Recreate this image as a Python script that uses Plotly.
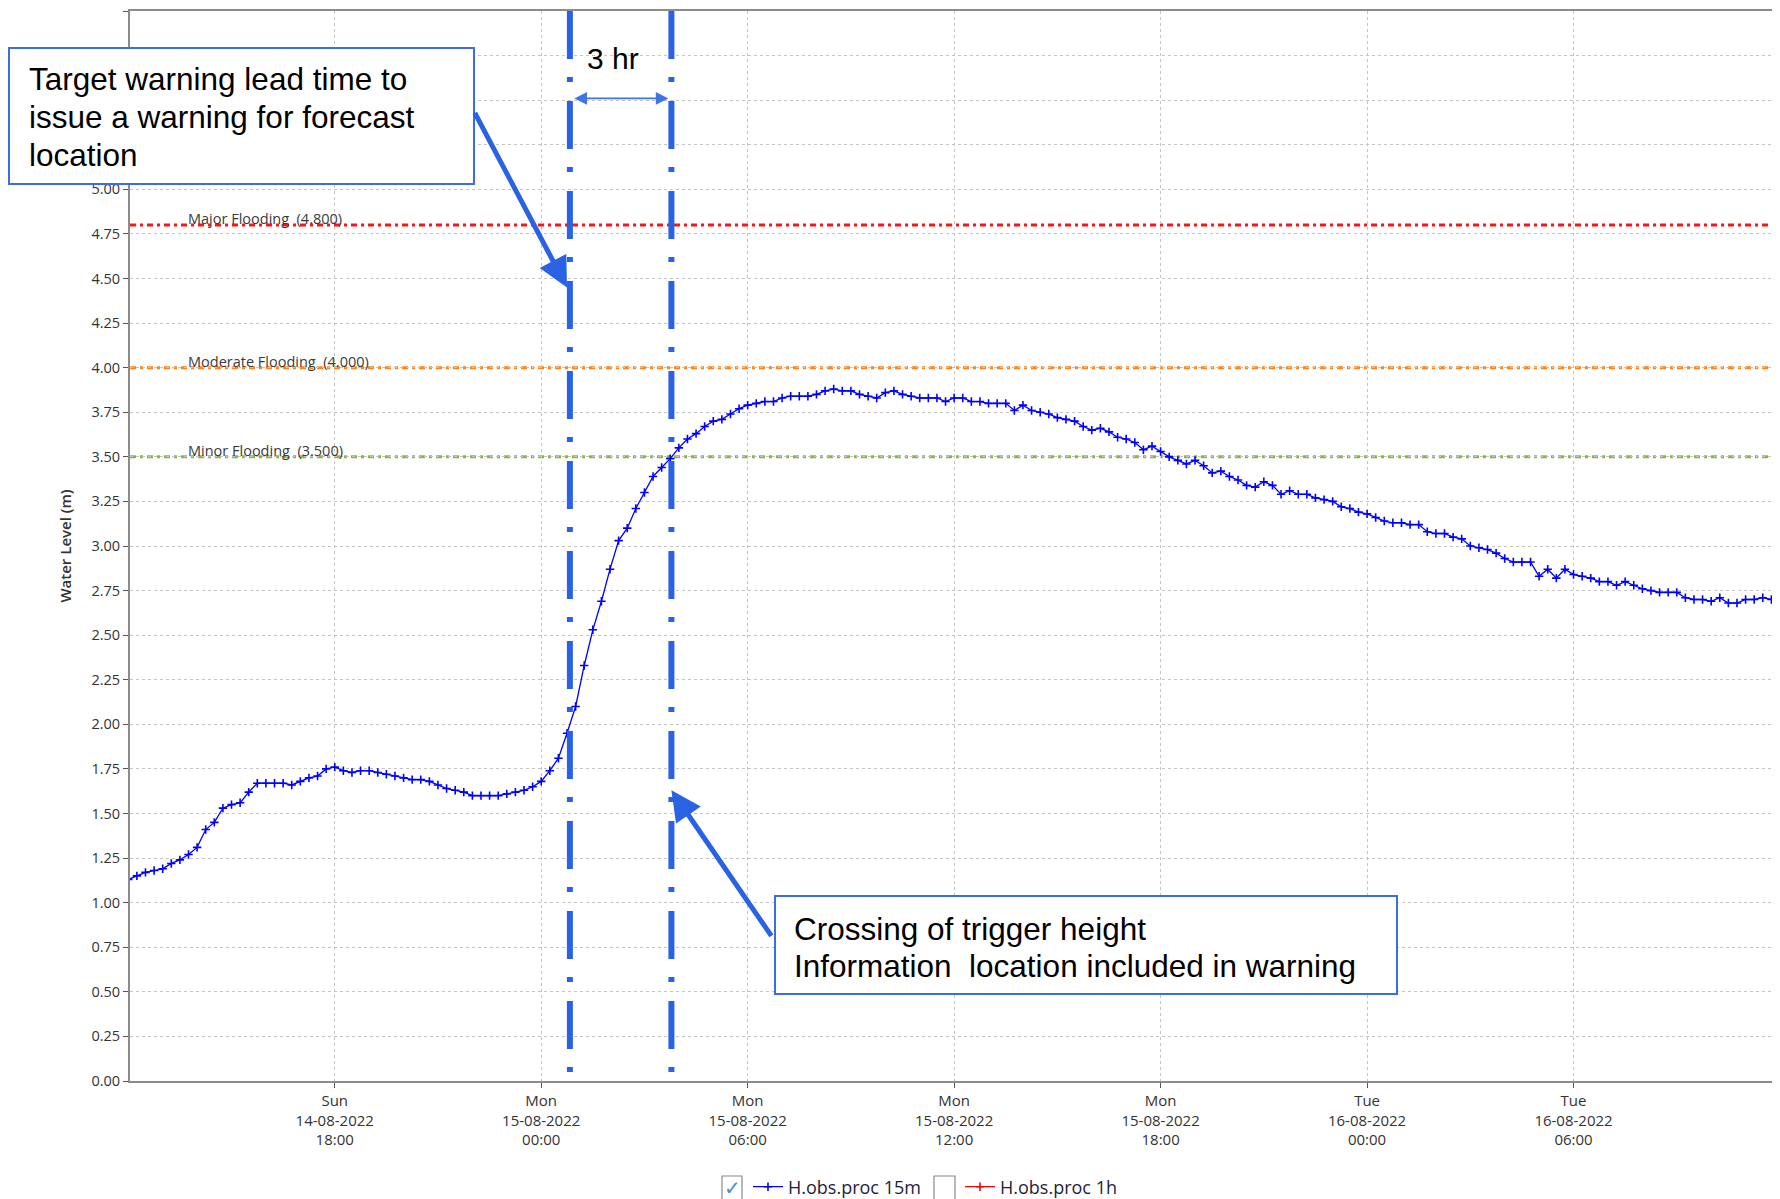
import pandas as pd
import plotly.graph_objects as go

# ---------------- data ----------------
series_start = "2022-08-14 12:00"
series_step = "15min"
# H.obs.proc 15m water level (m), one value per 15 minutes
level_sun = [
    1.13, 1.15, 1.17, 1.18,  # 12h
    1.19, 1.22, 1.24, 1.27,  # 13h
    1.31, 1.41, 1.45, 1.53,  # 14h
    1.55, 1.56, 1.62, 1.67,  # 15h
    1.67, 1.67, 1.67, 1.66,  # 16h
    1.68, 1.70, 1.71, 1.75,  # 17h
    1.76, 1.74, 1.73, 1.74,  # 18h
    1.74, 1.73, 1.72, 1.71,  # 19h
    1.70, 1.69, 1.69, 1.68,  # 20h
    1.66, 1.64, 1.63, 1.62,  # 21h
    1.60, 1.60, 1.60, 1.60,  # 22h
    1.61, 1.62, 1.63, 1.65,  # 23h
]
level_mon = [
    1.68, 1.74, 1.81, 1.95,  # 00h
    2.10, 2.33, 2.53, 2.69,  # 01h
    2.87, 3.03, 3.10, 3.21,  # 02h
    3.30, 3.39, 3.44, 3.49,  # 03h
    3.55, 3.60, 3.63, 3.67,  # 04h
    3.70, 3.71, 3.74, 3.77,  # 05h
    3.79, 3.80, 3.81, 3.81,  # 06h
    3.83, 3.84, 3.84, 3.84,  # 07h
    3.85, 3.87, 3.88, 3.87,  # 08h
    3.87, 3.85, 3.84, 3.83,  # 09h
    3.86, 3.87, 3.85, 3.84,  # 10h
    3.83, 3.83, 3.83, 3.81,  # 11h
    3.83, 3.83, 3.81, 3.81,  # 12h
    3.80, 3.80, 3.80, 3.76,  # 13h
    3.79, 3.76, 3.75, 3.74,  # 14h
    3.72, 3.71, 3.70, 3.67,  # 15h
    3.65, 3.66, 3.64, 3.61,  # 16h
    3.60, 3.58, 3.54, 3.56,  # 17h
    3.53, 3.50, 3.48, 3.46,  # 18h
    3.48, 3.45, 3.41, 3.42,  # 19h
    3.39, 3.37, 3.34, 3.33,  # 20h
    3.36, 3.34, 3.29, 3.31,  # 21h
    3.29, 3.29, 3.27, 3.26,  # 22h
    3.25, 3.22, 3.21, 3.19,  # 23h
]
level_tue = [
    3.18, 3.16, 3.14, 3.13,  # 00h
    3.13, 3.12, 3.12, 3.08,  # 01h
    3.07, 3.07, 3.05, 3.04,  # 02h
    3.00, 2.99, 2.98, 2.96,  # 03h
    2.93, 2.91, 2.91, 2.91,  # 04h
    2.83, 2.87, 2.82, 2.87,  # 05h
    2.84, 2.83, 2.82, 2.80,  # 06h
    2.80, 2.78, 2.80, 2.78,  # 07h
    2.76, 2.75, 2.74, 2.74,  # 08h
    2.74, 2.71, 2.70, 2.70,  # 09h
    2.69, 2.71, 2.68, 2.68,  # 10h
    2.70, 2.70, 2.71, 2.70,  # 11h
    2.70,                    # 12h
]
level_15m = level_sun + level_mon + level_tue
times_15m = pd.date_range(series_start, periods=len(level_15m), freq=series_step)

threshold_names = ["Major Flooding", "Moderate Flooding", "Minor Flooding"]
threshold_values = [4.8, 4.0, 3.5]
threshold_colors = ["#FF1414", "#FF8420", "#80C21C"]

lead_time_lines = ["2022-08-15 00:50", "2022-08-15 03:47"]
lead_time_label = "3 hr"
lead_time_label_at = "2022-08-15 02:06"

x_range = ["2022-08-14 12:03", "2022-08-16 12:00"]
tick_times = pd.date_range("2022-08-14 18:00", "2022-08-16 06:00", freq="6h")
tick_text = [t.strftime("%a<br>%d-%m-%Y<br>%H:%M") for t in tick_times]

# y ticks every 0.25 m; the labels hidden behind the note box are left blank
y_tick_values = [0.0, 0.25, 0.5, 0.75, 1.0, 1.25, 1.5, 1.75, 2.0, 2.25, 2.5, 2.75, 3.0,
                 3.25, 3.5, 3.75, 4.0, 4.25, 4.5, 4.75, 5.0, 5.25, 5.5, 5.75, 6.0]
y_hidden_labels = [5.25, 5.5, 5.75]
y_tick_text = ["" if v in y_hidden_labels else f"{v:.2f}" for v in y_tick_values]

series_names = ["H.obs.proc 15m", "H.obs.proc 1h"]
series_colors = ["#0000FF", "#FF0000"]

note_target_lines = ["Target warning lead time to", "issue a warning for forecast", "location"]
note_crossing_lines = ["Crossing of trigger height", "Information&nbsp; location included in warning"]

# ---------------- layout helpers (page pixel -> paper) ----------------
W, H = 1780, 1199
OFF = 8  # default page body margin
ML, MR, MT, MB = 122, 8, 3, 126
PW, PH = W - ML - MR, H - MT - MB


def px_x(px):
    return (px - OFF - ML) / PW


def px_y(py):
    return (H - MB - (py - OFF)) / PH


BLUE = "#2A62E4"
BOX_BLUE = "#3A6EE2"
GRID = "#C4C4C4"
NOTE_FONT = dict(family="Liberation Sans", size=31.5, color="#000000")

fig = go.Figure()
fig.add_trace(go.Scatter(
    x=times_15m, y=level_15m, mode="lines+markers", name=series_names[0],
    line=dict(color=series_colors[0], width=1.3),
    marker=dict(symbol="cross-thin", size=6, line=dict(color=series_colors[0], width=1.6)),
))
fig.add_trace(go.Scatter(
    x=[None], y=[None], mode="lines+markers", name=series_names[1],
    line=dict(color=series_colors[1], width=1.3),
    marker=dict(symbol="cross-thin", size=6, line=dict(color=series_colors[1], width=1.6)),
))

shapes = []
annotations = []

# flood thresholds
for name, val, col in zip(threshold_names, threshold_values, threshold_colors):
    shapes.append(dict(type="line", xref="paper", yref="y", x0=0, x1=1, y0=val, y1=val,
                       line=dict(color=col, width=3, dash="6px,4px,3px,4px"), layer="between"))
    annotations.append(dict(xref="paper", yref="y", x=px_x(186), y=val, xanchor="left", yanchor="bottom",
                            yshift=-5, showarrow=False,
                            text=f"{name}&nbsp; ({val:.3f})",
                            font=dict(family="Open Sans", size=14.5, color="#3a3a3a")))

# lead-time vertical dash-dot lines
for t in lead_time_lines:
    shapes.append(dict(type="line", xref="x", yref="y", x0=t, x1=t, y0=6.0, y1=0.04,
                       line=dict(color=BLUE, width=6, dash="48px,18px,5px,19px"), layer="above"))

# double arrow and "3 hr"
annotations.append(dict(xref="x", yref="y", axref="x", ayref="y",
                        x=lead_time_lines[1], y=5.51, ax=lead_time_lines[0], ay=5.51,
                        text="", showarrow=True, arrowside="end+start", arrowhead=2,
                        arrowsize=1.4, arrowwidth=1.8, arrowcolor="#3D74E6",
                        standoff=3, startstandoff=3))
annotations.append(dict(xref="x", yref="y", x=lead_time_label_at, y=5.733, text=lead_time_label,
                        showarrow=False, xanchor="center", yanchor="middle",
                        font=dict(family="Liberation Sans", size=30, color="#000000")))

# note boxes
shapes.append(dict(type="rect", xref="paper", yref="paper", x0=px_x(9), x1=px_x(474), y0=px_y(48), y1=px_y(184),
                   line=dict(color=BOX_BLUE, width=2), fillcolor="white", layer="above"))
shapes.append(dict(type="rect", xref="paper", yref="paper", x0=px_x(775), x1=px_x(1397), y0=px_y(896), y1=px_y(994),
                   line=dict(color=BOX_BLUE, width=2), fillcolor="white", layer="above"))
for line_text, py in zip(note_target_lines, [79.5, 117, 155.5]):
    annotations.append(dict(xref="paper", yref="paper", x=px_x(27), y=px_y(py), xanchor="left",
                            yanchor="middle", align="left", showarrow=False, text=line_text, font=NOTE_FONT))
for line_text, py in zip(note_crossing_lines, [928.5, 966]):
    annotations.append(dict(xref="paper", yref="paper", x=px_x(792), y=px_y(py), xanchor="left",
                            yanchor="middle", align="left", showarrow=False, text=line_text, font=NOTE_FONT))

# pointing arrows
annotations.append(dict(xref="x", yref="y", x="2022-08-15 00:45", y=4.45, ax=-93, ay=-176,
                        text="", showarrow=True, arrowhead=2, arrowsize=1.2, arrowwidth=5, arrowcolor=BLUE))
annotations.append(dict(xref="x", yref="y", x="2022-08-15 03:47", y=1.63, ax=101, ay=147,
                        text="", showarrow=True, arrowhead=2, arrowsize=1.2, arrowwidth=5, arrowcolor=BLUE))

# legend checkboxes
for x0, x1 in [(722, 742), (934, 955)]:
    shapes.append(dict(type="rect", xref="paper", yref="paper", x0=px_x(x0), x1=px_x(x1),
                       y0=px_y(1176), y1=px_y(1203), line=dict(color="#8a8a8a", width=1.2),
                       fillcolor="white", layer="above"))
annotations.append(dict(xref="paper", yref="paper", x=px_x(732), y=px_y(1188), text="✓", showarrow=False,
                        xanchor="center", yanchor="middle",
                        font=dict(family="DejaVu Sans", size=20, color="#4A90D9")))

axis_common = dict(showgrid=True, gridcolor=GRID, gridwidth=1, griddash="3px,3px",
                   showline=True, linecolor="#8C8C8C", linewidth=2,
                   ticks="outside", ticklen=5, tickcolor="#555555", zeroline=False)

fig.update_layout(
    width=W, height=H,
    margin=dict(l=ML, r=MR, t=MT, b=MB, autoexpand=False),
    paper_bgcolor="white", plot_bgcolor="white",
    font=dict(family="Open Sans", color="#333333"),
    shapes=shapes, annotations=annotations,
    showlegend=True,
    legend=dict(orientation="h", x=px_x(748), xanchor="left", y=px_y(1187), yanchor="middle",
                entrywidth=167, entrywidthmode="pixels", bgcolor="rgba(0,0,0,0)",
                font=dict(family="Open Sans", size=18, color="#1e1e3c")),
    xaxis=dict(type="date", range=x_range, tickvals=tick_times, ticktext=tick_text,
               tickfont=dict(family="Open Sans", size=15, color="#333333"), mirror=True, **axis_common),
    yaxis=dict(range=[0, 6], tickvals=y_tick_values, ticktext=y_tick_text,
               tickfont=dict(family="Open Sans", size=14.5, color="#333333"),
               title=dict(text="Water Level (m)", standoff=16,
                          font=dict(family="Open Sans", size=15, color="#333333", weight=600)),
               **axis_common),
)

fig.write_html("out.html")
